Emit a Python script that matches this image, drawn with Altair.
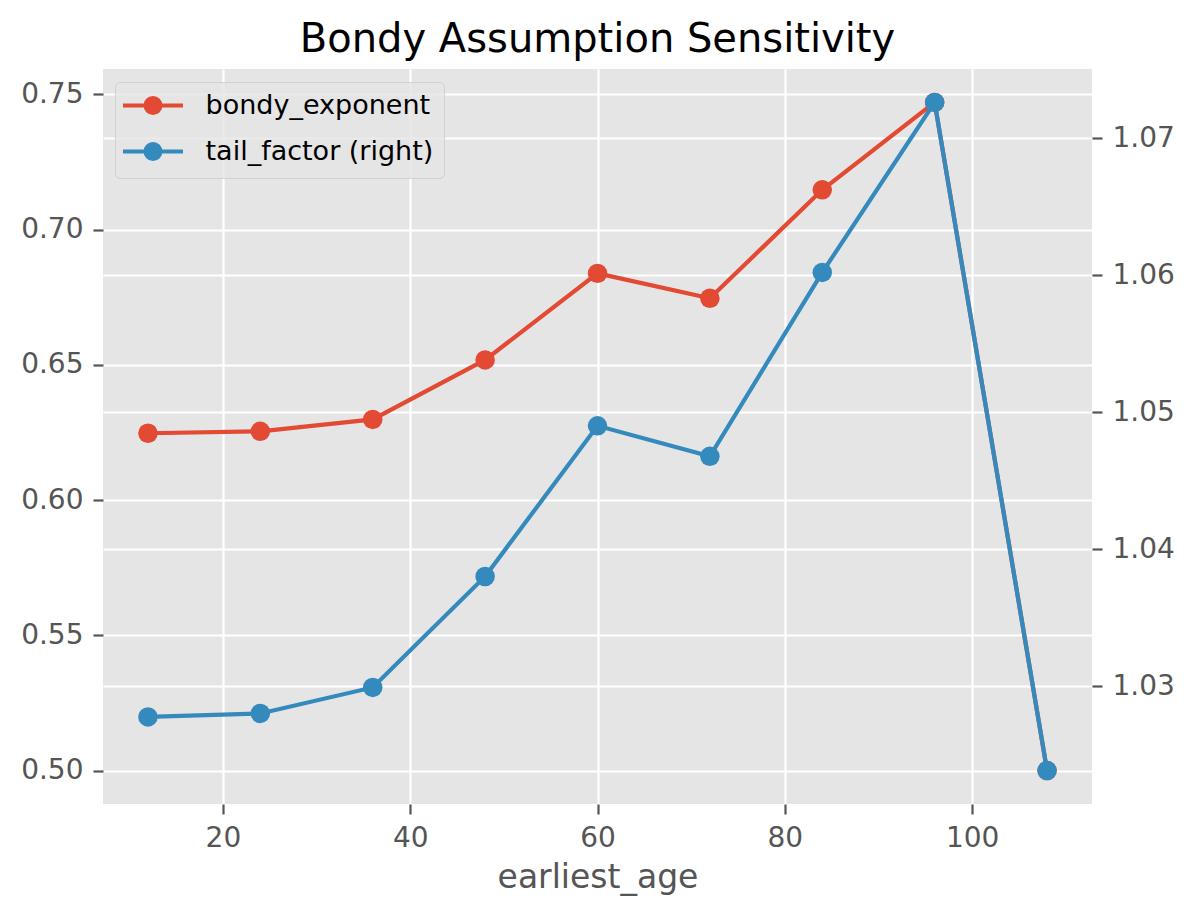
import altair as alt
import pandas as pd

# ---- data ----
ages = [12, 24, 36, 48, 60, 72, 84, 96, 108]
bondy_exponent = [0.6247, 0.6254, 0.6298, 0.6518, 0.6838, 0.6746, 0.7147, 0.7470, 0.5000]
tail_factor = [1.02775, 1.0280, 1.0299, 1.0380, 1.0490, 1.04677, 1.0602, 1.07261, 1.02383]
series_names = ["bondy_exponent", "tail_factor (right)"]
series_colors = ["#E24A33", "#348ABD"]
x_ticks = [20, 40, 60, 80, 100]
left_ticks = [0.50, 0.55, 0.60, 0.65, 0.70, 0.75]
right_ticks = [1.03, 1.04, 1.05, 1.06, 1.07]

df = pd.DataFrame({
    "earliest_age": ages,
    "bondy_exponent": bondy_exponent,
    "tail_factor": tail_factor,
})


def pad_domain(vals, frac=0.05):
    lo, hi = min(vals), max(vals)
    m = (hi - lo) * frac
    return [lo - m, hi + m]


FONT = "DejaVu Sans"
GREY = "#555555"

axis_common = dict(
    grid=True, gridColor="white", gridWidth=2.2, domain=False,
    tickColor=GREY, tickSize=10, tickWidth=2.2,
    labelColor=GREY, labelFontSize=28, labelFont=FONT,
)

x_enc = alt.X(
    "earliest_age:Q",
    scale=alt.Scale(domain=pad_domain(ages), nice=False, zero=False),
    axis=alt.Axis(values=x_ticks, title="earliest_age", titleFontSize=33,
                  titleColor=GREY, titleFont=FONT, titleFontWeight="normal",
                  titlePadding=9, labelPadding=10, **axis_common),
)

# legend symbol: a line with a filled dot (made of concentric rings so it works as a stroke)
def ring(r):
    return f"M{-r},0A{r},{r},0,1,1,{r},0A{r},{r},0,1,1,{-r},0"

symbol_path = "M-3.16,0L3.16,0" + ring(0.19) + ring(0.58) + ring(0.79)

legend = alt.Legend(
    title=None, orient="none", legendX=12, legendY=13,
    symbolType=symbol_path, symbolSize=361, symbolStrokeWidth=4,
    symbolOffset=14.5, labelOffset=39, labelLimit=500,
    labelFontSize=27, labelFont=FONT, labelColor="black",
    padding=10, rowPadding=13,
    fillColor="rgba(229,229,229,0.8)", strokeColor="rgba(204,204,204,0.8)",
    cornerRadius=5,
)

color_scale = alt.Scale(domain=series_names, range=series_colors)
color_leg = alt.Color("series:N", scale=color_scale, legend=legend)
color_noleg = alt.Color("series:N", scale=color_scale, legend=None)

# left axis series
base_l = alt.Chart(df).transform_calculate(series="'bondy_exponent'")
y_l = alt.Y(
    "bondy_exponent:Q",
    scale=alt.Scale(domain=pad_domain(bondy_exponent), nice=False, zero=False),
    axis=alt.Axis(orient="left", values=left_ticks, format=".2f", title=None,
                  labelPadding=10, **axis_common),
)
line_l = base_l.mark_line(strokeWidth=4.2).encode(x=x_enc, y=y_l, color=color_leg)
pts_l = base_l.mark_circle(size=380, opacity=1).encode(x=x_enc, y=y_l, color=color_noleg)

# right axis series
base_r = alt.Chart(df).transform_calculate(series="'tail_factor (right)'")
y_r = alt.Y(
    "tail_factor:Q",
    scale=alt.Scale(domain=pad_domain(tail_factor), nice=False, zero=False),
    axis=alt.Axis(orient="right", values=right_ticks, format=".2f", title=None,
                  labelPadding=10, **axis_common),
)
line_r = base_r.mark_line(strokeWidth=4.2).encode(x=x_enc, y=y_r, color=color_leg)
pts_r = base_r.mark_circle(size=380, opacity=1).encode(x=x_enc, y=y_r, color=color_noleg)

chart = alt.layer(
    alt.layer(line_l, pts_l),
    alt.layer(line_r, pts_r),
).resolve_scale(y="independent").properties(
    width=989,
    height=735,
    title=alt.TitleParams(
        "Bondy Assumption Sensitivity", fontSize=40, font=FONT,
        fontWeight="normal", color="black", anchor="middle", frame="group",
        baseline="alphabetic", offset=-23,
    ),
    padding={"left": 95, "top": 61, "right": 94, "bottom": 100},
    autosize=alt.AutoSizeParams(type="none"),
    background="white",
).configure_view(
    fill="#E5E5E5", strokeWidth=0,
)

chart.save("out.html", embed_options={"renderer": "svg", "actions": False})
